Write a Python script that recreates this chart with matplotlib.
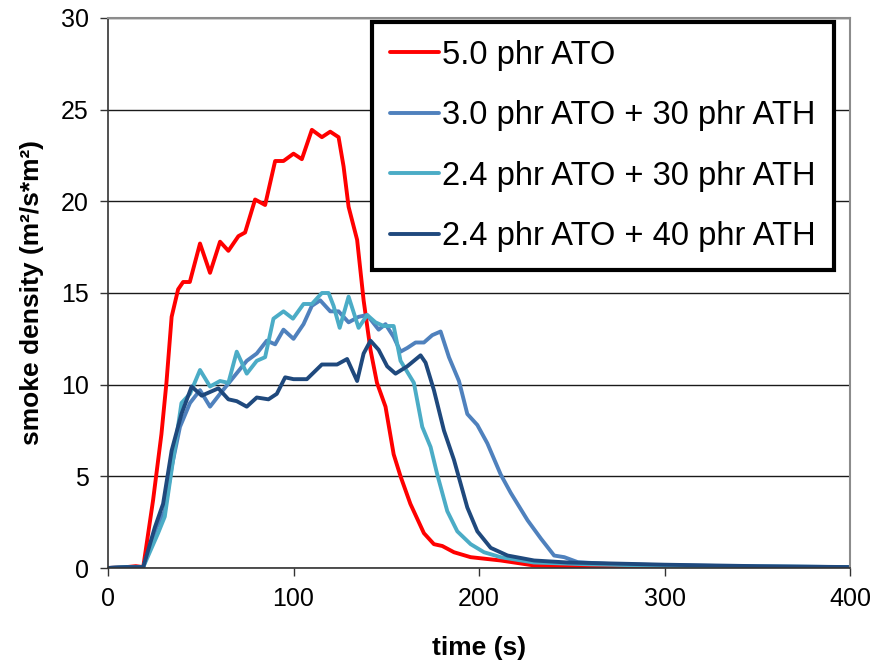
import matplotlib
matplotlib.use("Agg")
import matplotlib.pyplot as plt

plt.rcParams['font.family'] = ['Liberation Sans', 'DejaVu Sans']

# --- data ---
labels = ["5.0 phr ATO", "3.0 phr ATO + 30 phr ATH",
          "2.4 phr ATO + 30 phr ATH", "2.4 phr ATO + 40 phr ATH"]
colors = ["#FF0000", "#4F81BD", "#4BACC6", "#1F497D"]

t_red = [0, 10, 15, 19, 24.3, 28.8, 31.5, 34.3, 37.8, 40.5, 44.1, 49.6, 55, 60.4, 64.9,
         70.3, 73.9, 79.3, 84.7, 90.1, 94.6, 100, 104.5, 109.9, 115.3, 119.8, 124.3, 127,
         129.7, 134.3, 137.8, 141.5, 145, 149.6, 154, 157.7, 163, 170.3, 175.7, 180.2,
         186.5, 195.5, 211.7, 229.6, 250, 300, 350, 400]
v_red = [0, 0.05, 0.1, 0.05, 3.7, 7.3, 10.1, 13.7, 15.2, 15.6, 15.6, 17.7, 16.1, 17.8, 17.3,
         18.1, 18.3, 20.1, 19.8, 22.2, 22.2, 22.6, 22.3, 23.9, 23.5, 23.8, 23.5, 21.9,
         19.7, 17.9, 14.6, 11.9, 10.1, 8.8, 6.2, 5.0, 3.5, 1.9, 1.3, 1.2,
         0.86, 0.59, 0.41, 0.14, 0.08, 0.03, 0.02, 0.02]

t_b30 = [0, 10, 19, 26.1, 30.6, 34.3, 38.8, 44.2, 49.6, 55, 60.4, 67.6, 74.8, 80.2, 85.6,
         90.1, 94.6, 100, 105.4, 109.9, 114.4, 119.8, 124.3, 129.7, 135.1, 139.7, 145.9,
         149.6, 154, 157.7, 161.3, 165.8, 170.3, 174.8, 179.3, 183.8, 189.2, 193.7, 199.1,
         204.5, 211.7, 217.1, 226.2, 233.4, 240.5, 246, 253.2, 270, 300, 350, 400]
v_b30 = [0, 0.05, 0.05, 2.2, 3.1, 5.5, 7.7, 9.0, 9.7, 8.8, 9.5, 10.4, 11.3, 11.7, 12.4,
         12.2, 13.0, 12.5, 13.3, 14.3, 14.6, 14.0, 14.0, 13.4, 13.7, 13.8, 13.0,
         13.3, 12.6, 11.8, 12.0, 12.3, 12.3, 12.7, 12.9, 11.5, 10.2, 8.4, 7.8,
         6.8, 5.1, 4.1, 2.6, 1.6, 0.68, 0.59, 0.32, 0.22, 0.15, 0.08, 0.05]

t_c30 = [0, 10, 19, 27, 30.6, 35.1, 39.6, 44.2, 49.6, 55, 60.4, 64.9, 69.4, 74.8, 80.2,
         84.7, 89.2, 94.6, 99.7, 105.4, 109.9, 115.3, 118.9, 121.6, 124.9, 129.7, 135.1,
         139.7, 144.2, 148.6, 154, 157.7, 164.9, 169.4, 173.9, 177.5, 182.9, 188.3, 195.5,
         202.7, 211.7, 229.6, 260, 300, 350, 400]
v_c30 = [0, 0.05, 0.05, 1.9, 2.8, 5.9, 9.0, 9.5, 10.8, 9.9, 10.2, 10.1, 11.8, 10.6, 11.3,
         11.5, 13.6, 14.0, 13.6, 14.4, 14.4, 15.0, 15.0, 14.3, 13.1, 14.8, 13.1,
         13.8, 13.4, 13.2, 13.2, 11.3, 10.1, 7.7, 6.6, 5.1, 3.1, 2.0, 1.3,
         0.86, 0.59, 0.3, 0.2, 0.12, 0.08, 0.05]

t_n40 = [0, 10, 19, 25.2, 29.7, 34.3, 39.6, 45.1, 50.5, 55, 59.5, 64.9, 69.4, 74.8, 80.2,
         86.5, 91, 95.5, 100, 107.2, 115.3, 123.5, 128.9, 134.3, 137.8, 141.5, 145.9,
         150.5, 155, 161.3, 168.5, 171.2, 175.7, 181.1, 186.5, 190.1, 193.7, 199.1, 206.3,
         215.4, 229.7, 247.8, 270, 300, 350, 400]
v_n40 = [0, 0.05, 0.05, 2.2, 3.5, 6.4, 8.4, 9.9, 9.4, 9.6, 9.8, 9.2, 9.1, 8.8, 9.3,
         9.2, 9.5, 10.4, 10.3, 10.3, 11.1, 11.1, 11.4, 10.2, 11.7, 12.4, 11.9,
         11.0, 10.6, 11.0, 11.6, 11.2, 9.7, 7.5, 5.9, 4.6, 3.3, 2.0, 1.1,
         0.68, 0.41, 0.3, 0.25, 0.18, 0.1, 0.05]

x_ticks = [0, 100, 200, 300, 400]
y_ticks = [0, 5, 10, 15, 20, 25, 30]

# --- figure ---
fig = plt.figure(figsize=(8.74, 6.63), dpi=100)
ax = fig.add_axes([108 / 874, 95 / 663, 742 / 874, 550 / 663])

series = [(t_red, v_red), (t_b30, v_b30), (t_c30, v_c30), (t_n40, v_n40)]
for (t, v), c, lab in zip(series, colors, labels):
    ax.plot(t, v, color=c, lw=2.8, label=lab, solid_joinstyle='round', solid_capstyle='round')

ax.set_xlim(0, 400)
ax.set_ylim(0, 30)
ax.set_xticks(x_ticks)
ax.set_yticks(y_ticks)
ax.tick_params(axis='both', labelsize=18, direction='out', length=6, width=1,
               color='#333333', pad=8)
ax.yaxis.grid(True, color='#1a1a1a', lw=1)
ax.set_axisbelow(True)
for s in ['top', 'right']:
    ax.spines[s].set_color('#8c8c8c')
    ax.spines[s].set_linewidth(1.5)
for s in ['left', 'bottom']:
    ax.spines[s].set_color('#333333')
    ax.spines[s].set_linewidth(1.2)

ax.set_xlabel('time (s)', fontsize=19, fontweight='bold', labelpad=18)
ax.set_ylabel('smoke density (m²/s*m²)', fontsize=19, fontweight='bold', labelpad=12)

leg = ax.legend(loc='upper left', bbox_to_anchor=(0.356, 0.993), fontsize=23.5,
                frameon=True, fancybox=False, handlelength=1.5, handletextpad=0.1,
                labelspacing=0.9, borderpad=0.55, borderaxespad=0.0)
leg.get_frame().set_edgecolor('black')
leg.get_frame().set_linewidth(3)
leg.get_frame().set_facecolor('white')
leg.get_frame().set_alpha(1)

fig.savefig('out.png', dpi=100)
